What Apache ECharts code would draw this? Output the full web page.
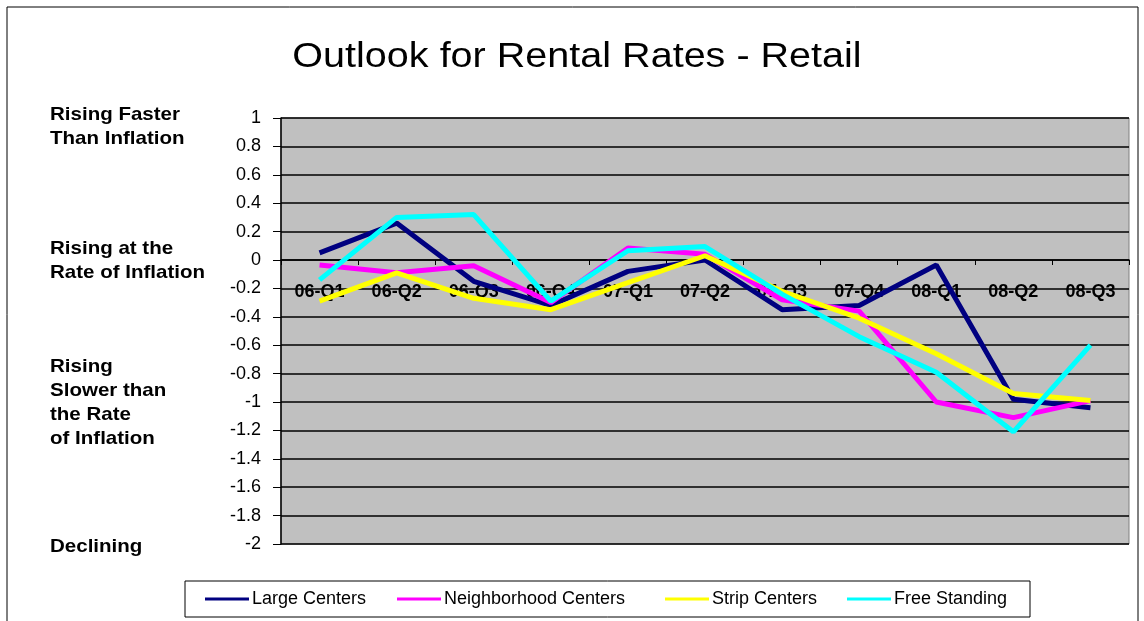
<!DOCTYPE html>
<html>
<head>
<meta charset="utf-8">
<script src="https://cdn.jsdelivr.net/npm/echarts@6/dist/echarts.min.js"></script>
<style>
  html, body { margin: 0; padding: 0; background: #fff; }
  #chart { width: 1144px; height: 621px; }
</style>
</head>
<body>
<div id="chart"></div>
<script>
// quarters on the x axis
const categories = ['06-Q1', '06-Q2', '06-Q3', '06-Q4', '07-Q1', '07-Q2', '07-Q3', '07-Q4', '08-Q1', '08-Q2', '08-Q3']

// series values
const largeCenters = [0.05, 0.26, -0.15, -0.32, -0.08, 0.0, -0.35, -0.32, -0.035, -0.98, -1.04]
const neighborhoodCenters = [-0.035, -0.09, -0.04, -0.30, 0.085, 0.04, -0.28, -0.36, -1.0, -1.11, -0.99]
const stripCenters = [-0.29, -0.09, -0.27, -0.35, -0.16, 0.03, -0.22, -0.41, -0.66, -0.94, -0.99]
const freeStanding = [-0.14, 0.30, 0.32, -0.29, 0.065, 0.095, -0.24, -0.54, -0.79, -1.21, -0.60]

const seriesNames = ['Large Centers', 'Neighborhood Centers', 'Strip Centers', 'Free Standing']
const seriesColors = ['#000080', '#FF00FF', '#FFFF00', '#00FFFF']

// left-hand annotations
const sideNotes = [
  { text: 'Rising Faster\nThan Inflation', y: 103 },
  { text: 'Rising at the\nRate of Inflation', y: 237 },
  { text: 'Rising\nSlower than\nthe Rate\nof Inflation', y: 355 },
  { text: 'Declining', y: 535 }
]

// where each legend entry starts (reference is laid out by hand)
const legendLeft = [205, 397, 665, 847]

const chart = echarts.init(document.getElementById('chart'))

const seriesData = [largeCenters, neighborhoodCenters, stripCenters, freeStanding]

chart.setOption({
  animation: false,
  legend: seriesNames.map((name, i) => ({
    data: [name],
    left: legendLeft[i],
    top: 590,
    padding: 0,
    itemWidth: 44,
    itemHeight: 3,
    itemGap: 0,
    icon: 'rect',
    textStyle: {
      fontFamily: 'Liberation Sans, Arial',
      fontSize: 18,
      color: '#000',
      padding: [0, 0, 0, -2]
    }
  })),
  grid: {
    left: 281,
    right: 15,
    top: 118,
    bottom: 77,
    show: true,
    backgroundColor: '#C0C0C0',
    borderColor: '#808080',
    borderWidth: 1
  },
  xAxis: {
    type: 'category',
    data: categories,
    boundaryGap: true,
    axisLine: { onZero: true, lineStyle: { color: '#000', width: 1.5 } },
    axisTick: { show: true, length: 5, lineStyle: { color: '#000' } },
    axisLabel: {
      margin: -261,
      fontFamily: 'Liberation Sans, Arial',
      fontWeight: 'bold',
      fontSize: 18,
      color: '#000'
    },
    splitLine: { show: false }
  },
  yAxis: {
    type: 'value',
    min: -2,
    max: 1,
    interval: 0.2,
    axisLine: { show: true, lineStyle: { color: '#000', width: 1.5 } },
    axisTick: { show: true, length: 8, lineStyle: { color: '#000' } },
    axisLabel: {
      margin: 20,
      fontFamily: 'Liberation Sans, Arial',
      fontSize: 18,
      color: '#000',
      formatter: v => String(Math.round(v * 10) / 10)
    },
    splitLine: { show: true, lineStyle: { color: '#000', width: 1.5 } }
  },
  graphic: [
    {
      type: 'rect',
      shape: { x: 7, y: 7, width: 1131, height: 640 },
      style: { fill: 'none', stroke: '#000', lineWidth: 1 },
      silent: true
    },
    {
      type: 'rect',
      shape: { x: 185, y: 581, width: 845, height: 36 },
      style: { fill: '#fff', stroke: '#000', lineWidth: 1 },
      z: -1,
      silent: true
    },
    {
      type: 'text',
      x: 577,
      y: 57,
      scaleX: 1.13,
      style: {
        text: 'Outlook for Rental Rates - Retail',
        font: '35px "Liberation Sans", Arial',
        fill: '#000',
        align: 'center',
        verticalAlign: 'middle'
      }
    }
  ].concat(sideNotes.map(n => ({
    type: 'text',
    x: 50,
    y: n.y,
    scaleX: 1.08,
    style: {
      text: n.text,
      font: 'bold 19px "Liberation Sans", Arial',
      fill: '#000',
      lineHeight: 24
    }
  }))),
  series: seriesNames.map((name, i) => ({
    name: name,
    type: 'line',
    data: seriesData[i],
    symbol: 'none',
    color: seriesColors[i],
    lineStyle: { width: 5, color: seriesColors[i] }
  }))
})
</script>
</body>
</html>
